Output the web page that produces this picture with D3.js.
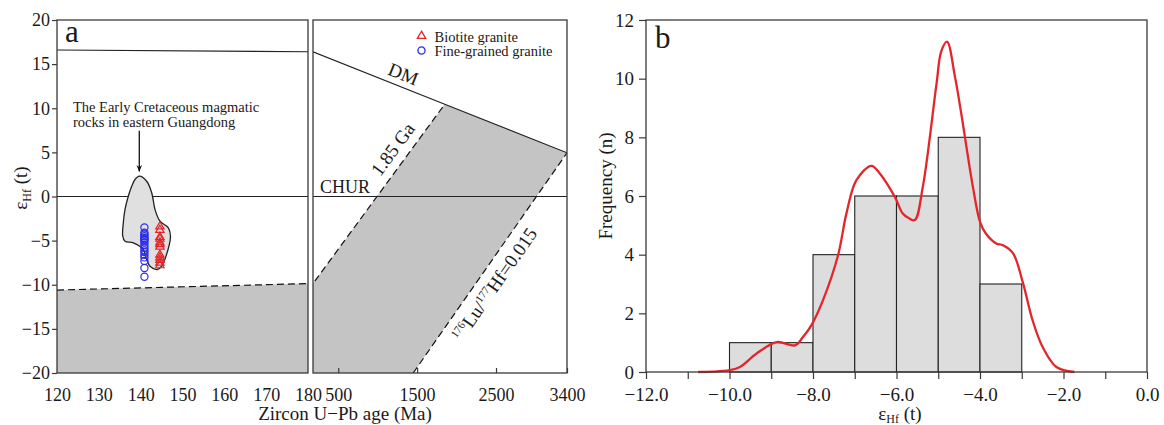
<!DOCTYPE html>
<html>
<head>
<meta charset="utf-8">
<script src="https://cdn.jsdelivr.net/npm/d3@7"></script>
<style>
  body { margin: 0; background: #fff; }
  svg { display: block; }
  text { font-family: "Liberation Serif", "Times New Roman", serif; fill: #1a1a1a; }
</style>
</head>
<body>
<svg id="chart" width="1164" height="425"></svg>
<script>
// ---------------- data ----------------
// Panel a: εHf(t) vs zircon U-Pb age
const ageTicksYoung = [120, 130, 140, 150, 160, 170, 180];
const ageTicksOld = [500, 1500, 2500, 3400];
const epsTicks = [-20, -15, -10, -5, 0, 5, 10, 15, 20];

// evolution lines, [age (Ma), εHf]
const dmCurve = [[120, 16.6], [180, 16.4], [1850, 10.45], [3400, 4.95]];
const churLine = [[120, 0], [3400, 0]];
const crust185 = [[120, -10.6], [180, -9.87], [1850, 10.45]];
const crust015 = [[1450, -20], [3400, 4.95]];

// outline of the Early Cretaceous magmatic rocks field (eastern Guangdong)
const guangdongField = [
  [139.67, 2.30], [141.44, 1.73], [142.64, 0.42], [143.43, -1.47], [144.62, -2.80],
  [146.61, -3.55], [147.13, -4.50], [146.06, -6.76], [145.03, -7.90], [144.02, -8.27],
  [142.23, -7.90], [141.44, -7.14], [140.63, -6.01], [138.24, -5.25], [136.26, -5.07],
  [135.71, -4.50], [135.85, -2.98], [136.26, -1.47], [137.04, 0.03], [137.86, 1.17],
  [138.65, 1.93]
];

const biotiteAge = 144.6;
const biotiteEps = [-3.4, -3.8, -4.6, -4.8, -5.2, -5.4, -5.7, -6.6, -6.9, -7.2, -7.5, -7.8];
const fineAge = 140.9;
const fineEps = [-3.5, -4.1, -4.3, -4.5, -4.7, -4.85, -4.95, -5.2, -5.5, -5.8,
                 -6.1, -6.3, -6.6, -6.9, -7.3, -8.1, -9.1];

// Panel b: histogram of εHf(t)
const binEdges = [-10, -9, -8, -7, -6, -5, -4, -3];
const binCounts = [1, 1, 4, 6, 6, 8, 3];
const epsMinorTicks = [-12, -11, -10, -9, -8, -7, -6, -5, -4, -3, -2, -1, 0];
const epsLabelTicks = [-12, -10, -8, -6, -4, -2, 0];
const freqTicks = [0, 2, 4, 6, 8, 10, 12];
// kernel density curve, [εHf, frequency]
const densityCurve = [
  [-10.75, 0], [-10.4, 0.01], [-10.0, 0.06], [-9.75, 0.17], [-9.35, 0.63], [-8.87, 1.02],
  [-8.43, 0.91], [-8.24, 1.19], [-8.04, 1.59], [-7.76, 2.45], [-7.4, 3.98], [-7.2, 5.4],
  [-6.96, 6.54], [-6.6, 7.03], [-6.4, 6.77], [-6.04, 5.97], [-5.85, 5.4], [-5.69, 5.23],
  [-5.56, 5.18], [-5.37, 6.31], [-5.04, 9.84], [-4.93, 10.92], [-4.79, 11.26], [-4.6, 10.07],
  [-4.45, 8.82], [-4.17, 6.31], [-4.0, 5.12], [-3.86, 4.72], [-3.61, 4.38], [-3.45, 4.32],
  [-3.21, 4.05], [-2.97, 3.03], [-2.74, 1.76], [-2.5, 0.85], [-2.17, 0.17], [-1.74, 0.0]
];

// ---------------- drawing ----------------
const svg = d3.select("#chart");
const RED = "#e3262b", BLUE = "#2b2bef", FRAME = "#3a3a3a";
const GREY_BAND = "#c4c4c4", GREY_FIELD = "#e0e0e0", BAR = "#dddddd";

const xYoung = d3.scaleLinear().domain([120, 180]).range([57, 308]);
const xOld = d3.scaleLinear().domain([180, 3400]).range([313, 567]);
const yEps = d3.scaleLinear().domain([-20, 20]).range([373, 20]);

const defs = svg.append("defs");
defs.append("clipPath").attr("id", "clipYoung").append("rect")
  .attr("x", 57).attr("y", 20).attr("width", 251).attr("height", 353);
defs.append("clipPath").attr("id", "clipOld").append("rect")
  .attr("x", 313).attr("y", 20).attr("width", 254).attr("height", 353);
defs.append("marker").attr("id", "arrowHead").attr("viewBox", "0 0 10 10")
  .attr("refX", 9).attr("refY", 5).attr("markerWidth", 7).attr("markerHeight", 9)
  .attr("markerUnits", "userSpaceOnUse").attr("orient", "auto")
  .append("path").attr("d", "M0,1 L10,5 L0,9 L3,5 Z").attr("fill", "#111");

function panel(xs, clipId) {
  const g = svg.append("g").attr("clip-path", `url(#${clipId})`);
  const line = d3.line().x(d => xs(d[0])).y(d => yEps(d[1]));
  return { g, line };
}

// --- young (120-180 Ma) sub-panel ---
const young = panel(xYoung, "clipYoung");
const youngBand = [[120, -20], ...crust185, [180, -20]];
young.g.append("path").attr("d", young.line(youngBand) + "Z").attr("fill", GREY_BAND);
young.g.append("path").attr("d", young.line(crust185)).attr("fill", "none")
  .attr("stroke", "#111").attr("stroke-width", 1.2).attr("stroke-dasharray", "7,4");
young.g.append("path").attr("d", young.line(dmCurve)).attr("fill", "none")
  .attr("stroke", "#222").attr("stroke-width", 1.2);
young.g.append("path").attr("d", young.line(churLine)).attr("fill", "none")
  .attr("stroke", "#222").attr("stroke-width", 1.1);

// field of Early Cretaceous rocks
young.g.append("path")
  .attr("d", d3.line().x(d => xYoung(d[0])).y(d => yEps(d[1])).curve(d3.curveCatmullRomClosed)(guangdongField))
  .attr("fill", GREY_FIELD).attr("stroke", "#222").attr("stroke-width", 1.3);

// samples
young.g.selectAll("circle.fine").data(fineEps).join("circle")
  .attr("class", "fine").attr("cx", xYoung(fineAge)).attr("cy", d => yEps(d)).attr("r", 3.6)
  .attr("fill", "none").attr("stroke", BLUE).attr("stroke-width", 1.2);
const tri = d3.symbol(d3.symbolTriangle, 30);
young.g.selectAll("path.bio").data(biotiteEps).join("path")
  .attr("class", "bio").attr("d", tri)
  .attr("transform", d => `translate(${xYoung(biotiteAge)},${yEps(d)})`)
  .attr("fill", "none").attr("stroke", RED).attr("stroke-width", 1.2);

// annotation with arrow
const note = svg.append("text").attr("font-size", 14.5);
note.append("tspan").attr("x", xYoung(123.8)).attr("y", yEps(9.52)).text("The Early Cretaceous magmatic");
note.append("tspan").attr("x", xYoung(123.8)).attr("y", yEps(7.82)).text("rocks in eastern Guangdong");
svg.append("line")
  .attr("x1", xYoung(139.67)).attr("y1", yEps(7.45))
  .attr("x2", xYoung(139.67)).attr("y2", yEps(2.85))
  .attr("stroke", "#111").attr("stroke-width", 1.3).attr("marker-end", "url(#arrowHead)");

// --- old (180-3400 Ma) sub-panel ---
const old = panel(xOld, "clipOld");
const oldBand = [[180, -20], ...crust185.filter(d => d[0] >= 180), dmCurve[dmCurve.length - 1], crust015[0]];
old.g.append("path").attr("d", old.line(oldBand) + "Z").attr("fill", GREY_BAND);
old.g.append("path").attr("d", old.line(crust185)).attr("fill", "none")
  .attr("stroke", "#111").attr("stroke-width", 1.2).attr("stroke-dasharray", "7,4");
old.g.append("path").attr("d", old.line(crust015)).attr("fill", "none")
  .attr("stroke", "#111").attr("stroke-width", 1.2).attr("stroke-dasharray", "7,4");
old.g.append("path").attr("d", old.line(dmCurve)).attr("fill", "none")
  .attr("stroke", "#222").attr("stroke-width", 1.2);
old.g.append("path").attr("d", old.line(churLine)).attr("fill", "none")
  .attr("stroke", "#222").attr("stroke-width", 1.1);

function slopeAngle(xs, p, q) {
  return Math.atan2(yEps(q[1]) - yEps(p[1]), xs(q[0]) - xs(p[0])) * 180 / Math.PI;
}
svg.append("text").attr("font-size", 19).attr("text-anchor", "middle")
  .attr("transform", `translate(401,80) rotate(${slopeAngle(xOld, dmCurve[1], dmCurve[3])})`)
  .text("DM");
svg.append("text").attr("font-size", 19).attr("text-anchor", "middle")
  .attr("transform", `translate(398,153) rotate(${slopeAngle(xOld, crust185[1], crust185[2])})`)
  .text("1.85 Ga");
svg.append("text").attr("font-size", 18).attr("x", 320).attr("y", 193).text("CHUR");
const luLabel = svg.append("text").attr("font-size", 19).attr("text-anchor", "middle")
  .attr("transform", `translate(500,288) rotate(${slopeAngle(xOld, crust015[0], crust015[1])})`);
luLabel.append("tspan").attr("font-size", 11).attr("dy", -7).text("176");
luLabel.append("tspan").attr("dy", 7).text("Lu/");
luLabel.append("tspan").attr("font-size", 11).attr("dy", -7).text("177");
luLabel.append("tspan").attr("dy", 7).text("Hf=0.015");

// legend
const legend = svg.append("g").attr("transform", "translate(421.5,0)");
legend.append("path").attr("d", tri).attr("transform", "translate(0,36)")
  .attr("fill", "none").attr("stroke", RED).attr("stroke-width", 1.3);
legend.append("circle").attr("cx", 0).attr("cy", 50.5).attr("r", 3.6)
  .attr("fill", "none").attr("stroke", BLUE).attr("stroke-width", 1.3);
legend.append("text").attr("x", 13).attr("y", 41.5).attr("font-size", 14.5).text("Biotite granite");
legend.append("text").attr("x", 13).attr("y", 55.5).attr("font-size", 14.5).text("Fine-grained granite");

// frames and axes for panel a
[[57, 308], [313, 567]].forEach(([a, b]) => {
  svg.append("rect").attr("x", a).attr("y", 20).attr("width", b - a).attr("height", 353)
    .attr("fill", "none").attr("stroke", FRAME).attr("stroke-width", 1.3);
});
function styleAxis(g, size) {
  g.select(".domain").remove();
  g.selectAll(".tick line").attr("stroke", FRAME).attr("stroke-width", 1.2);
  g.selectAll(".tick text").attr("font-size", size).attr("font-family", null).attr("fill", "#1a1a1a");
}
svg.append("g").attr("transform", "translate(57,0)")
  .call(d3.axisLeft(yEps).tickValues(epsTicks).tickSize(5).tickPadding(2))
  .call(g => styleAxis(g, 18));
svg.append("g").attr("transform", "translate(0,373)")
  .call(d3.axisBottom(xYoung).tickValues(ageTicksYoung).tickSize(0).tickPadding(15))
  .call(g => styleAxis(g, 18));
svg.append("g").attr("transform", "translate(0,373)")
  .call(d3.axisBottom(xOld).tickValues(ageTicksOld).tickSizeInner(-5).tickSizeOuter(0)
    .tickPadding(15).tickFormat(d3.format("d")))
  .call(g => styleAxis(g, 18));

svg.append("text").attr("x", 65).attr("y", 42).attr("font-size", 31).text("a");
const yLabA = svg.append("text").attr("font-size", 19).attr("text-anchor", "middle")
  .attr("transform", "translate(27,188) rotate(-90)");
yLabA.append("tspan").text("ε");
yLabA.append("tspan").attr("font-size", 12).attr("dy", 4).text("Hf");
yLabA.append("tspan").attr("dy", -4).text(" (t)");
svg.append("text").attr("x", 345).attr("y", 420).attr("font-size", 19).attr("text-anchor", "middle")
  .text("Zircon U−Pb age (Ma)");

// ---------------- panel b ----------------
const xB = d3.scaleLinear().domain([-12, 0]).range([646, 1147]);
const yB = d3.scaleLinear().domain([0, 12]).range([372, 20]);

svg.append("g").selectAll("rect").data(binCounts).join("rect")
  .attr("x", (d, i) => xB(binEdges[i]))
  .attr("y", d => yB(d))
  .attr("width", (d, i) => xB(binEdges[i + 1]) - xB(binEdges[i]))
  .attr("height", d => yB(0) - yB(d))
  .attr("fill", BAR).attr("stroke", "#222").attr("stroke-width", 1.1);

svg.append("path")
  .attr("d", d3.line().x(d => xB(d[0])).y(d => yB(d[1])).curve(d3.curveCatmullRom.alpha(0.5))(densityCurve))
  .attr("fill", "none").attr("stroke", RED).attr("stroke-width", 2.3).attr("stroke-linejoin", "round");

svg.append("rect").attr("x", 646).attr("y", 20).attr("width", 501).attr("height", 352)
  .attr("fill", "none").attr("stroke", FRAME).attr("stroke-width", 1.3);

svg.append("g").attr("transform", "translate(0,372)")
  .call(d3.axisBottom(xB).tickValues(epsMinorTicks).tickSize(7).tickFormat(""))
  .call(g => styleAxis(g, 19));
svg.append("g").attr("transform", "translate(0,372)")
  .call(d3.axisBottom(xB).tickValues(epsLabelTicks).tickSize(0).tickPadding(16).tickFormat(d3.format(".1f")))
  .call(g => styleAxis(g, 19));
svg.append("g").attr("transform", "translate(646,0)")
  .call(d3.axisLeft(yB).tickValues(freqTicks).tickSize(7).tickPadding(5))
  .call(g => styleAxis(g, 19));

svg.append("text").attr("x", 655).attr("y", 48).attr("font-size", 31).text("b");
svg.append("text").attr("font-size", 19).attr("text-anchor", "middle")
  .attr("transform", "translate(612,186) rotate(-90)").text("Frequency (n)");
const xLabB = svg.append("text").attr("font-size", 19).attr("text-anchor", "middle")
  .attr("x", 900).attr("y", 420);
xLabB.append("tspan").text("ε");
xLabB.append("tspan").attr("font-size", 12).attr("dy", 3).text("Hf");
xLabB.append("tspan").attr("dy", -3).text(" (t)");
</script>
</body>
</html>
